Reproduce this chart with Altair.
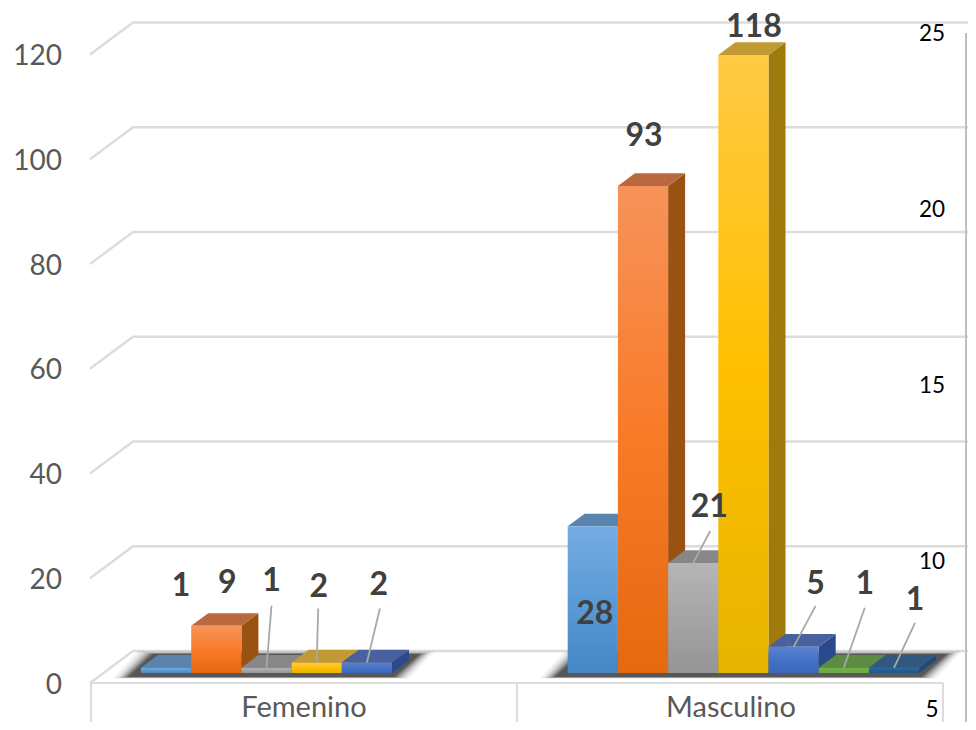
import altair as alt
import pandas as pd

# ---- chart values
categories = ["Femenino", "Masculino"]
femenino_values = [1, 9, 1, 2, 2]
masculino_values = [28, 93, 21, 118, 5, 1, 1]
left_ticks = [0, 20, 40, 60, 80, 100, 120]
right_ticks = [25, 20, 15, 10, 5]

# series styling: front gradient stops, top face, side face
front_colors = [
    ["#74ABE2", "#5B9BD5", "#4487C6"],
    ["#F6935A", "#F97B28", "#E4690F"],
    ["#B5B5B5", "#A5A5A5", "#959595"],
    ["#FFCA45", "#FFC000", "#E6B400"],
    ["#5C82D2", "#4472C4", "#3A66BE"],
    ["#70B247", "#70AD47", "#6AA843"],
    ["#2A6AA6", "#255E91", "#205488"],
]
top_colors = ["#5A84AE", "#BA693F", "#878787", "#C29A33", "#47629E", "#5C8C42", "#33587F"]
side_colors = ["#3F6E9C", "#9A5212", "#747474", "#9F7A0C", "#2B4A8B", "#4C7A32", "#1E4A76"]

# label nudges in pixels from the top centre of each front face
fem_nudges = [(15, -82), (11, -43), (5, -87), (2, -76), (12, -78)]
mas_nudges = [(2, 88), (1, -50), (16, -56), (10.5, -28), (22, -63), (21, -84), (21, -68)]
# leader lines: (group, bar, end dx, end dy)
leaders = [(0, 2, 5, -62), (0, 3, 1.5, -54), (0, 4, 13, -54),
           (1, 2, 17, -32), (1, 4, 22, -41), (1, 5, 21, -60), (1, 6, 21, -45)]

# ---- layout constants (pixel geometry of the pseudo-3D projection)
W, H = 960, 714
SLOT = 50.2
PX_PER_UNIT = 5.237
ORIGIN_X, ORIGIN_Y = 141.0, 673.0     # page position of slot 0 / value 0
group_start = [0.0, 8.5]


def px2u(px):
    return (px - ORIGIN_X) / SLOT


def py2v(py):
    return (ORIGIN_Y - py) / PX_PER_UNIT


xs = alt.Scale(domain=[px2u(8), px2u(8 + W)], nice=False, zero=False)
ys = alt.Scale(domain=[py2v(8 + H), py2v(8)], nice=False, zero=False)
X = lambda f: alt.X(f, type="quantitative", scale=xs, axis=None)
Y = lambda f: alt.Y(f, type="quantitative", scale=ys, axis=None)

BAR_DX = 17 / SLOT
BAR_DY = 12.7 / PX_PER_UNIT


def grad(stops):
    n = len(stops) - 1
    return alt.Gradient(
        gradient="linear", x1=0, x2=0, y1=0, y2=1,
        stops=[alt.GradientStop(color=c, offset=i / n) for i, c in enumerate(stops)],
    )


layers = []

# ---- walls: gridlines running from the front-left edge to the back wall and across
GRID = "#dcdcdc"
for t in left_ticks:
    df = pd.DataFrame({
        "x": [px2u(90), px2u(133), px2u(8 + W)],
        "y": [py2v(683 - t * PX_PER_UNIT), py2v(651 - t * PX_PER_UNIT), py2v(651 - t * PX_PER_UNIT)],
        "o": [0, 1, 2],
    })
    layers.append(alt.Chart(df).mark_line(color=GRID, strokeWidth=2.4, clip=True)
                  .encode(x=X("x"), y=Y("y"), order=alt.Order("o:Q")))

# floor front edge + category separators
rules = [((90, 683), (943, 683))] + [((px, 683), (px, 722)) for px in (91, 517, 943)]
for (a, b) in rules:
    df = pd.DataFrame({"x": [px2u(a[0])], "x2": [px2u(b[0])], "y": [py2v(a[1])], "y2": [py2v(b[1])]})
    layers.append(alt.Chart(df).mark_rule(color=GRID, strokeWidth=2.2)
                  .encode(x=X("x"), x2="x2", y=Y("y"), y2="y2"))

# secondary axis line
df = pd.DataFrame({"x": [px2u(966)], "y": [py2v(33)], "y2": [py2v(722)]})
layers.append(alt.Chart(df).mark_rule(color="#bfbfbf", strokeWidth=2)
              .encode(x=X("x"), y=Y("y"), y2="y2"))

# ---- floor shadow (stack of translucent parallelograms = soft edge)
for g, vals in zip(group_start, [femenino_values, masculino_values]):
    left = ORIGIN_X + g * SLOT
    right = left + len(vals) * SLOT
    for k, op in zip([15, 12, 9, 6.5, 4, 2, 0], [0.05, 0.08, 0.12, 0.16, 0.2, 0.25, 0.3]):
        df = pd.DataFrame({
            "y": [py2v(654 - k * 0.2), py2v(677 + k * 0.1)],
            "x": [px2u(left + 12 - k), px2u(left - 13 - k)],
            "x2": [px2u(right + 28 + k), px2u(right + 2 + k)],
        })
        layers.append(alt.Chart(df).mark_area(color="#1a1a1a", opacity=op, orient="horizontal")
                      .encode(y=Y("y"), x=X("x"), x2="x2"))

# ---- bars: painted left to right, side then top then front
for g, vals in zip(group_start, [femenino_values, masculino_values]):
    for i, v in enumerate(vals):
        x0 = g + i
        x1 = x0 + 1
        side = pd.DataFrame({"x": [x1, x1 + BAR_DX], "y": [0, BAR_DY], "y2": [v, v + BAR_DY]})
        layers.append(alt.Chart(side).mark_area(color=side_colors[i], orient="vertical")
                      .encode(x=X("x"), y=Y("y"), y2="y2"))
        top = pd.DataFrame({"y": [v, v + BAR_DY], "x": [x0, x0 + BAR_DX], "x2": [x1, x1 + BAR_DX]})
        layers.append(alt.Chart(top).mark_area(color=top_colors[i], orient="horizontal")
                      .encode(y=Y("y"), x=X("x"), x2="x2"))
        front = pd.DataFrame({"x": [x0], "x2": [x1], "y": [0], "y2": [v]})
        layers.append(alt.Chart(front).mark_bar(color=grad(front_colors[i]))
                      .encode(x=X("x"), x2="x2", y=Y("y"), y2="y2"))

# ---- leader lines
all_vals = [femenino_values, masculino_values]
for gi, bi, ex, ey in leaders:
    v = all_vals[gi][bi]
    c = group_start[gi] + bi + 0.5
    df = pd.DataFrame({"x": [c], "x2": [c + ex / SLOT], "y": [v], "y2": [v - ey / PX_PER_UNIT]})
    layers.append(alt.Chart(df).mark_rule(color="#a8a8a8", strokeWidth=1.8)
                  .encode(x=X("x"), x2="x2", y=Y("y"), y2="y2"))

# ---- data labels
for g, vals, nudges in zip(group_start, all_vals, [fem_nudges, mas_nudges]):
    for i, v in enumerate(vals):
        df = pd.DataFrame({"x": [g + i + 0.5], "y": [v], "t": [str(v)]})
        layers.append(alt.Chart(df).mark_text(
            font="Lato", fontSize=32, fontWeight="bold", color="#404040",
            dx=nudges[i][0], dy=nudges[i][1], baseline="middle", align="center",
        ).encode(x=X("x"), y=Y("y"), text="t:N"))

# ---- left tick labels
df = pd.DataFrame({"x": [px2u(62)] * len(left_ticks),
                   "y": [py2v(685.5 - t * PX_PER_UNIT) for t in left_ticks],
                   "t": [str(t) for t in left_ticks]})
layers.append(alt.Chart(df).mark_text(font="Lato", fontSize=28, color="#595959", align="right", baseline="middle")
              .encode(x=X("x"), y=Y("y"), text="t:N"))

# ---- category labels
df = pd.DataFrame({"x": [px2u(304), px2u(731)], "y": [py2v(708)] * 2, "t": categories})
layers.append(alt.Chart(df).mark_text(font="Lato", fontSize=29, color="#595959", align="center", baseline="middle")
              .encode(x=X("x"), y=Y("y"), text="t:N"))

# ---- right tick labels
df = pd.DataFrame({"x": [px2u(932)] * len(right_ticks),
                   "y": [py2v(min(914 - 35.2 * r, 710)) for r in right_ticks],
                   "t": [str(r) for r in right_ticks]})
layers.append(alt.Chart(df).mark_text(font="Lato", fontSize=22.5, color="#000000", align="center", baseline="middle")
              .encode(x=X("x"), y=Y("y"), text="t:N"))

chart = alt.layer(*layers).properties(
    width=W, height=H, padding=0, autosize=alt.AutoSizeParams(type="none"),
    background="#ffffff",
).configure_view(strokeWidth=0)

chart.save("out.html", embed_options={"renderer": "svg", "actions": False})
